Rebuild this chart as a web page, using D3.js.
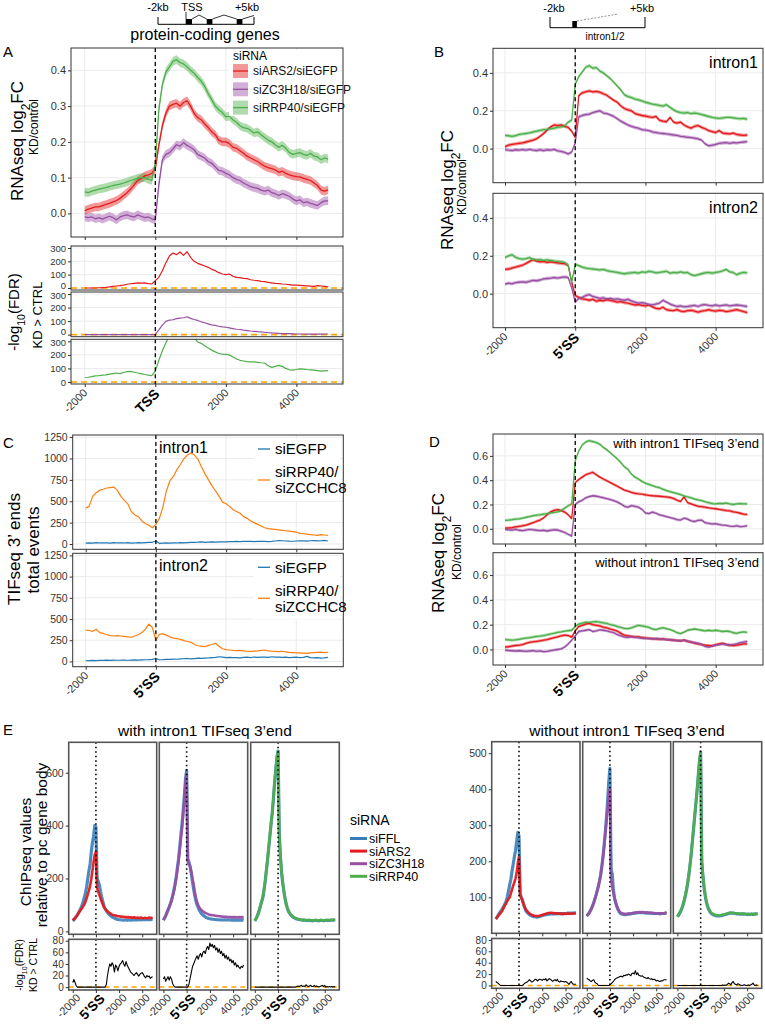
<!DOCTYPE html>
<html><head><meta charset="utf-8">
<script src="https://cdn.jsdelivr.net/npm/d3@7"></script>
<style>body{margin:0;background:#fff}svg{display:block}text{font-family:"Liberation Sans",Arial,Helvetica,sans-serif}</style>
</head><body><svg id="c" width="765" height="1026"></svg>
<script>
// ---------- bins ----------
const binStart = -2000, binStep = 100, nBins = 70;
const pos = d3.range(nBins).map(i => binStart + i * binStep);
const xTickVals = [-2000, 0, 2000, 4000];
const xTickTSS = ["-2000", "TSS", "2000", "4000"];
const xTickSS = ["-2000", "5\u2019SS", "2000", "4000"];
const seriesA = ["siARS2/siEGFP", "siZC3H18/siEGFP", "siRRP40/siEGFP"];
const seriesC = ["siEGFP", "siRRP40/", "siZCCHC8"];
const seriesE = ["siFFL", "siARS2", "siZC3H18", "siRRP40"];

// ---------- Panel A: RNAseq log2FC (protein-coding genes) ----------
const aRed = [0.008,0.012,0.015,0.018,0.018,0.022,0.025,0.028,0.032,0.036,
 0.042,0.050,0.058,0.068,0.080,0.092,0.098,0.105,0.108,0.112,
 0.125,0.190,0.245,0.280,0.300,0.305,0.308,0.300,0.310,0.315,
 0.300,0.280,0.268,0.262,0.250,0.240,0.228,0.220,0.205,0.200,
 0.200,0.195,0.185,0.182,0.175,0.168,0.160,0.155,0.150,0.145,
 0.138,0.132,0.128,0.125,0.122,0.115,0.118,0.112,0.108,0.105,
 0.103,0.102,0.098,0.095,0.092,0.085,0.078,0.065,0.062,0.066];
const aPurple = [-0.010,-0.012,-0.010,-0.015,-0.012,-0.016,-0.012,-0.008,-0.012,-0.018,
 -0.010,-0.006,-0.004,-0.008,-0.010,-0.004,-0.008,-0.012,-0.010,-0.015,
 -0.018,0.080,0.150,0.165,0.170,0.180,0.192,0.188,0.198,0.190,
 0.185,0.178,0.165,0.160,0.155,0.145,0.140,0.130,0.120,0.118,
 0.112,0.108,0.100,0.095,0.092,0.085,0.080,0.075,0.072,0.070,
 0.065,0.062,0.065,0.058,0.055,0.050,0.055,0.052,0.048,0.040,
 0.035,0.038,0.030,0.032,0.028,0.025,0.022,0.030,0.035,0.035];
const aGreen = [0.060,0.058,0.062,0.065,0.068,0.070,0.072,0.075,0.078,0.080,
 0.082,0.085,0.088,0.092,0.095,0.098,0.100,0.100,0.095,0.092,
 0.140,0.290,0.360,0.395,0.410,0.425,0.430,0.422,0.418,0.410,
 0.400,0.392,0.380,0.370,0.355,0.335,0.318,0.300,0.290,0.282,
 0.270,0.272,0.262,0.255,0.245,0.240,0.238,0.232,0.225,0.228,
 0.220,0.212,0.205,0.200,0.192,0.185,0.190,0.182,0.170,0.165,
 0.168,0.170,0.165,0.162,0.168,0.160,0.158,0.150,0.155,0.152];
const seA = 0.012;
const aFdrRed = [0,0,0,0,2,3,5,8,12,15,
 18,22,28,32,35,38,36,38,33,30,
 55,80,130,190,240,262,250,270,245,272,
 230,200,185,175,165,155,140,130,115,105,
 100,105,88,80,78,72,70,62,58,55,
 50,48,42,38,35,33,30,28,25,22,
 22,20,18,16,14,12,18,15,12,8];
const aFdrPurple = [0,0,0,0,0,0,0,0,0,0,
 0,0,0,0,0,0,0,0,0,0,
 2,35,70,98,108,110,118,122,125,132,
 120,112,105,95,88,80,72,68,62,58,
 55,50,45,40,38,33,30,27,25,22,
 20,18,15,13,12,10,8,8,7,6,
 5,5,5,4,4,4,5,4,5,5];
const aFdrGreen = [33,35,40,45,46,50,52,58,62,66,
 62,70,76,78,72,66,62,55,50,46,
 80,160,230,290,340,380,400,420,410,400,
 370,330,295,285,268,250,235,222,210,205,
 204,200,185,170,160,155,150,148,148,145,
 142,140,120,108,115,122,115,100,90,88,
 92,97,95,92,90,88,84,80,82,84];

// ---------- Panel B: intron1 / intron2 ----------
const bRed1 = [0.010,0.018,0.022,0.025,0.028,0.030,0.035,0.040,0.045,0.052,
 0.065,0.080,0.098,0.115,0.125,0.122,0.125,0.118,0.112,0.092,
 0.060,0.280,0.295,0.300,0.305,0.300,0.302,0.298,0.290,0.282,
 0.268,0.255,0.245,0.225,0.212,0.205,0.200,0.185,0.180,0.175,
 0.172,0.168,0.165,0.170,0.150,0.145,0.142,0.165,0.140,0.135,
 0.140,0.125,0.115,0.108,0.118,0.122,0.112,0.105,0.095,0.090,
 0.085,0.095,0.082,0.080,0.078,0.082,0.075,0.072,0.070,0.072];
const bPurple1 = [-0.005,-0.008,-0.010,-0.006,-0.008,-0.005,-0.008,-0.004,-0.008,-0.010,
 -0.006,-0.010,-0.006,-0.008,-0.004,-0.012,-0.015,-0.020,-0.028,-0.018,
 0.030,0.168,0.175,0.180,0.182,0.190,0.195,0.200,0.188,0.185,
 0.178,0.170,0.158,0.145,0.135,0.125,0.118,0.112,0.108,0.100,
 0.098,0.095,0.088,0.085,0.082,0.080,0.078,0.075,0.072,0.070,
 0.065,0.063,0.060,0.058,0.055,0.052,0.045,0.025,0.015,0.018,
 0.022,0.028,0.030,0.032,0.028,0.032,0.030,0.033,0.035,0.037];
const bGreen1 = [0.070,0.068,0.065,0.068,0.075,0.078,0.080,0.083,0.088,0.092,
 0.096,0.100,0.102,0.105,0.108,0.112,0.115,0.120,0.140,0.150,
 0.340,0.380,0.405,0.430,0.438,0.425,0.428,0.410,0.400,0.385,
 0.370,0.350,0.330,0.310,0.285,0.275,0.270,0.262,0.258,0.252,
 0.245,0.240,0.235,0.232,0.228,0.225,0.232,0.218,0.205,0.195,
 0.190,0.188,0.190,0.185,0.188,0.185,0.180,0.175,0.170,0.165,
 0.162,0.160,0.162,0.165,0.165,0.163,0.160,0.158,0.160,0.155];
const bRed2 = [0.128,0.130,0.135,0.140,0.145,0.150,0.160,0.170,0.180,0.172,
 0.168,0.170,0.165,0.168,0.165,0.162,0.160,0.158,0.150,0.060,
 -0.010,-0.020,-0.028,-0.030,-0.035,-0.030,-0.040,-0.035,-0.038,-0.032,
 -0.036,-0.040,-0.045,-0.042,-0.048,-0.050,-0.055,-0.060,-0.058,-0.062,
 -0.065,-0.060,-0.070,-0.078,-0.080,-0.072,-0.085,-0.088,-0.090,-0.085,
 -0.092,-0.095,-0.090,-0.088,-0.092,-0.098,-0.092,-0.090,-0.085,-0.090,
 -0.092,-0.088,-0.090,-0.095,-0.092,-0.088,-0.085,-0.090,-0.095,-0.100];
const bPurple2 = [0.050,0.055,0.052,0.058,0.060,0.062,0.060,0.065,0.070,0.068,
 0.072,0.078,0.080,0.082,0.085,0.082,0.086,0.088,0.085,0.030,
 -0.045,-0.025,-0.020,-0.010,-0.005,-0.015,-0.020,-0.025,-0.022,-0.028,
 -0.025,-0.030,-0.028,-0.032,-0.035,-0.030,-0.038,-0.045,-0.050,-0.048,
 -0.052,-0.058,-0.060,-0.055,-0.050,-0.035,-0.045,-0.055,-0.062,-0.068,
 -0.065,-0.070,-0.068,-0.065,-0.062,-0.068,-0.060,-0.058,-0.062,-0.065,
 -0.060,-0.065,-0.062,-0.060,-0.065,-0.062,-0.060,-0.062,-0.065,-0.068];
const bGreen2 = [0.190,0.200,0.205,0.192,0.185,0.182,0.185,0.190,0.180,0.178,
 0.180,0.175,0.178,0.175,0.172,0.170,0.168,0.165,0.150,0.060,
 0.155,0.148,0.140,0.135,0.132,0.130,0.128,0.125,0.128,0.122,
 0.118,0.115,0.112,0.108,0.105,0.108,0.110,0.112,0.108,0.115,
 0.112,0.118,0.115,0.110,0.112,0.115,0.118,0.108,0.112,0.110,
 0.115,0.110,0.112,0.100,0.095,0.100,0.105,0.110,0.112,0.108,
 0.112,0.115,0.120,0.128,0.115,0.112,0.100,0.108,0.112,0.110];
const seB = 0.009;

// ---------- Panel C: TIFseq 3' ends ----------
const cBlue1 = [10,12,10,15,12,14,12,10,15,12,
 14,12,15,10,12,15,14,16,18,20,
 35,8,10,12,10,14,12,15,14,16,
 18,20,22,25,20,22,24,22,25,24,
 26,28,27,30,28,30,32,30,28,30,
 32,30,28,30,35,40,38,35,33,32,
 35,38,36,34,38,40,36,38,42,35];
const cOrange1 = [420,440,560,600,630,640,655,660,665,630,
 560,510,470,380,340,320,270,240,220,190,
 230,300,430,620,740,790,870,930,1000,1040,
 1065,1040,990,900,820,750,680,620,560,490,
 470,440,400,380,360,320,300,270,250,230,
 210,190,180,175,170,165,160,155,150,145,
 140,125,120,115,110,105,100,110,105,100];
const cBlue2 = [8,10,12,10,14,12,15,13,16,14,
 15,17,14,16,18,16,18,20,22,25,
 35,20,22,25,24,28,26,30,32,35,
 30,34,38,36,40,42,45,48,55,50,
 45,48,44,46,42,48,50,46,52,48,
 50,52,48,55,50,52,48,50,46,48,
 50,46,48,60,45,42,44,40,42,48];
const cOrange2 = [370,365,355,380,340,330,315,305,300,305,
 300,295,290,285,300,315,340,380,440,400,
 250,320,325,310,290,275,270,260,245,235,
 225,200,185,180,175,190,200,215,180,150,
 140,135,130,128,130,125,120,118,122,125,
 130,135,125,120,118,115,120,112,108,105,
 102,100,98,95,100,105,108,110,105,108];

// ---------- Panel D: with / without intron1 TIFseq 3'end ----------
const dRed1 = [0.005,0.008,0.010,0.015,0.020,0.025,0.030,0.040,0.050,0.062,
 0.072,0.090,0.115,0.140,0.152,0.158,0.150,0.138,0.115,0.085,
 0.380,0.405,0.425,0.445,0.455,0.465,0.445,0.425,0.410,0.395,
 0.380,0.365,0.350,0.335,0.318,0.310,0.300,0.292,0.288,0.285,
 0.280,0.275,0.272,0.270,0.268,0.265,0.262,0.258,0.250,0.235,
 0.225,0.262,0.215,0.205,0.195,0.185,0.182,0.178,0.172,0.168,
 0.165,0.160,0.155,0.150,0.148,0.140,0.135,0.128,0.120,0.118];
const dPurple1 = [-0.005,-0.008,-0.010,-0.005,-0.012,-0.015,-0.010,-0.005,-0.008,-0.012,
 -0.015,-0.012,-0.018,-0.012,-0.008,-0.010,-0.020,-0.030,-0.045,-0.060,
 0.200,0.222,0.235,0.255,0.265,0.272,0.268,0.262,0.255,0.248,
 0.240,0.232,0.220,0.205,0.185,0.178,0.190,0.185,0.178,0.160,
 0.130,0.125,0.138,0.128,0.115,0.108,0.100,0.092,0.085,0.075,
 0.072,0.088,0.080,0.065,0.060,0.070,0.072,0.050,0.045,0.040,
 0.042,0.035,0.030,0.028,0.022,0.020,0.025,0.018,0.020,0.025];
const dGreen1 = [0.070,0.072,0.075,0.080,0.082,0.088,0.095,0.100,0.108,0.112,
 0.115,0.120,0.125,0.130,0.135,0.140,0.150,0.170,0.190,0.205,
 0.560,0.640,0.690,0.715,0.725,0.718,0.710,0.695,0.670,0.650,
 0.625,0.600,0.575,0.545,0.510,0.490,0.450,0.425,0.410,0.390,
 0.375,0.365,0.355,0.345,0.338,0.325,0.315,0.305,0.298,0.290,
 0.282,0.270,0.262,0.255,0.245,0.238,0.232,0.222,0.215,0.208,
 0.205,0.210,0.208,0.212,0.205,0.200,0.205,0.208,0.205,0.205];
const dRed2 = [0.020,0.022,0.028,0.032,0.035,0.040,0.050,0.058,0.062,0.065,
 0.070,0.075,0.080,0.088,0.095,0.102,0.110,0.115,0.112,0.100,
 0.150,0.185,0.195,0.205,0.210,0.200,0.195,0.190,0.180,0.175,
 0.165,0.158,0.148,0.130,0.115,0.110,0.105,0.100,0.102,0.095,
 0.092,0.090,0.088,0.085,0.082,0.085,0.080,0.078,0.075,0.072,
 0.070,0.075,0.065,0.060,0.052,0.045,0.040,0.035,0.032,0.030,
 0.038,0.045,0.050,0.040,0.035,0.032,0.035,0.040,0.045,0.045];
const dPurple2 = [-0.005,-0.008,-0.010,-0.012,-0.010,-0.012,-0.015,-0.012,-0.010,-0.015,
 -0.012,-0.018,-0.015,-0.010,-0.005,0.000,0.005,0.020,0.045,0.075,
 0.110,0.145,0.150,0.155,0.160,0.145,0.150,0.158,0.155,0.150,
 0.142,0.135,0.120,0.110,0.100,0.098,0.102,0.100,0.095,0.092,
 0.090,0.088,0.085,0.088,0.085,0.082,0.080,0.078,0.075,0.072,
 0.070,0.075,0.068,0.060,0.055,0.050,0.040,0.025,0.020,0.028,
 0.035,0.040,0.045,0.040,0.035,0.040,0.045,0.055,0.060,0.065];
const dGreen2 = [0.080,0.078,0.075,0.078,0.082,0.088,0.092,0.095,0.100,0.105,
 0.108,0.112,0.118,0.125,0.130,0.138,0.142,0.148,0.152,0.155,
 0.185,0.205,0.212,0.220,0.218,0.222,0.225,0.220,0.215,0.210,
 0.200,0.195,0.185,0.178,0.170,0.168,0.175,0.185,0.195,0.190,
 0.185,0.178,0.165,0.160,0.170,0.175,0.168,0.160,0.150,0.135,
 0.128,0.140,0.155,0.160,0.165,0.160,0.155,0.150,0.155,0.150,
 0.155,0.150,0.145,0.148,0.145,0.135,0.130,0.138,0.142,0.138];
const seD = 0.012;

// ---------- Panel E: ChIPseq, with intron1 TIFseq 3'end ----------
const eL1FFL = [40,44,50,56,62,70,78,88,98,112,
 128,146,168,200,230,255,300,335,360,400,
 395,200,190,175,150,128,112,95,85,78,
 72,66,62,58,55,52,50,48,46,45,
 44,44,43,43,42,43,43,42,43,43,
 42,43,44,43,43,44,43,44,44,43,
 44,45,44,44,45,44,45,44,45,45];
const eL1KD = [42,46,50,56,62,70,76,82,88,95,
 102,112,126,140,155,172,198,230,262,290,
 300,165,150,138,125,112,102,92,85,80,
 76,72,69,66,63,62,61,60,58,57,
 57,56,56,55,55,54,54,53,54,53,
 53,52,52,53,52,51,52,51,51,52,
 51,50,51,51,50,51,52,51,51,52];
const eL2FFL = [42,50,58,70,80,92,104,118,135,155,
 178,205,238,272,315,360,405,455,510,575,
 609,275,262,245,220,190,160,135,115,100,
 90,80,72,66,62,58,55,52,50,49,
 48,47,46,46,45,45,44,44,44,43,
 44,43,43,44,43,43,44,43,43,42,
 43,42,43,42,43,42,43,42,43,42];
const eL2KD = [44,52,60,72,82,92,104,116,132,150,
 172,200,232,265,305,350,390,440,495,560,
 595,262,255,245,225,200,178,150,128,110,
 99,90,84,80,76,73,70,68,66,64,
 63,62,61,61,60,59,58,58,57,57,
 56,56,55,55,55,54,54,54,54,53,
 54,53,54,53,53,54,53,54,53,54];
const eL3FFL = [40,47,56,68,82,98,114,130,158,192,
 232,272,318,362,408,448,502,562,612,658,
 682,375,282,222,182,150,123,102,86,75,
 68,62,57,54,51,49,47,46,45,44,
 43,42,43,42,41,42,41,42,41,41,
 40,41,42,41,40,41,41,42,41,40,
 41,42,41,42,41,42,43,42,43,43];
const eL3KD = [40,48,58,70,84,100,115,132,160,195,
 235,275,320,365,410,450,505,565,615,660,
 680,360,285,225,185,152,125,104,88,77,
 69,63,58,55,52,50,48,47,46,45,
 44,43,44,43,42,43,42,43,42,42,
 41,42,43,42,41,42,42,43,42,41,
 42,43,42,43,42,43,44,43,44,44];
const eLF1 = [8,13,8,2,0,0,0,0,0,0,
 0,0,0,0,0,0,0,0,0,0,
 0,0,0,0,0,0,0,0,0,5,
 20,32,40,36,42,38,26,38,35,28,
 36,40,42,46,40,36,44,38,34,30,
 26,24,22,20,23,25,22,19,22,24,
 25,22,18,16,20,18,19,15,17,18];
const eLF2 = [14,18,10,14,18,12,18,14,6,2,
 0,0,0,0,0,0,0,0,0,0,
 0,0,5,15,25,35,40,45,50,54,
 48,55,58,52,60,62,58,66,70,65,
 76,70,74,68,72,64,68,60,66,58,
 62,54,58,50,55,48,52,45,48,42,
 46,38,42,35,38,34,32,36,34,38];
const eLF3 = [0,0,0,0,0,0,0,0,0,0,
 0,0,0,0,0,0,0,0,0,0,
 0,0,0,0,0,0,0,0,0,0,
 0,0,0,0,0,0,1,2,1,2,
 3,1,2,1,4,2,1,2,3,1,
 1,3,1,2,1,0,1,2,3,1,
 3,0,1,0,1,0,1,0,1,0];

// ---------- Panel E: without intron1 TIFseq 3'end ----------
const eR1FFL = [40,44,50,55,60,64,70,76,82,90,
 102,118,135,150,172,192,212,230,255,280,
 270,110,100,92,80,70,62,58,55,52,
 50,48,47,46,46,45,45,46,47,48,
 49,50,51,52,52,53,53,54,54,54,
 54,54,55,54,55,55,54,55,54,55,
 55,55,56,55,56,55,56,56,57,57];
const eR1KD = [40,44,48,52,56,60,65,72,78,84,
 90,95,100,110,122,132,142,152,168,195,
 212,105,98,90,80,72,66,62,58,55,
 53,51,50,49,48,48,48,48,49,50,
 51,52,53,54,55,56,56,57,57,56,
 56,55,56,55,55,54,55,54,54,55,
 54,54,55,54,55,54,55,55,55,56];
const eR2FFL = [48,52,56,62,68,76,85,95,106,118,
 130,145,162,185,212,245,280,320,365,420,
 458,175,165,120,98,84,74,66,60,56,
 54,53,52,52,52,53,53,54,54,55,
 55,56,56,57,57,57,58,57,58,57,
 57,56,57,56,56,56,56,55,55,55,
 55,55,55,54,55,55,55,55,56,57];
const eR2KD = [48,52,56,62,68,76,85,95,106,118,
 130,145,162,185,210,240,275,310,345,385,
 400,150,130,112,98,86,76,68,62,58,
 56,55,54,54,53,54,54,55,55,56,
 56,57,57,58,58,58,59,58,59,58,
 58,57,58,57,57,56,57,56,56,56,
 55,56,55,55,56,55,56,55,57,58];
const eR3FFL = [46,50,56,62,70,80,92,106,122,142,
 165,192,222,258,292,328,362,398,438,478,
 502,198,158,126,103,86,74,66,60,56,
 53,51,50,49,48,48,48,49,49,50,
 51,52,53,54,55,56,56,56,56,55,
 55,54,54,54,53,53,54,53,53,53,
 52,53,52,53,53,52,53,53,54,54];
const eR3KD = [46,52,58,64,72,82,94,108,125,145,
 168,195,225,260,295,330,365,400,440,480,
 505,200,160,128,105,88,76,68,62,58,
 55,53,52,51,50,50,50,50,51,52,
 52,53,54,55,56,57,57,57,56,56,
 55,55,55,54,54,54,55,54,54,53,
 53,54,53,53,54,53,54,54,54,55];
const eRF1 = [7,5,4,2,0,0,0,0,0,0,
 0,0,0,0,0,0,0,0,0,0,
 0,0,0,0,2,4,5,6,8,10,
 8,6,7,9,11,10,8,10,11,10,
 9,11,10,12,8,10,12,11,9,7,
 9,10,8,11,7,6,8,7,7,6,
 7,6,4,2,5,7,3,2,2,2];
const eRF2 = [13,11,10,8,7,9,10,6,4,3,
 0,0,0,0,0,0,0,0,0,0,
 1,3,5,7,10,12,13,14,15,16,
 16,15,18,17,19,18,20,19,17,21,
 22,20,26,19,22,18,17,16,17,15,
 14,13,12,14,12,11,12,10,11,10,
 8,9,8,7,8,8,9,10,10,10];
const eRF3 = [0,0,0,0,0,0,0,0,0,0,
 0,0,0,0,0,0,0,0,0,0,
 0,0,0,0,0,0,0,0,0,0,
 0,0,0,0,0,0,0,0,0,1,
 0,1,0,2,4,3,1,5,7,3,
 2,1,3,2,1,0,0,1,1,0,
 0,1,0,1,2,4,1,0,1,0];

// ---------- drawing ----------
const colRed = "#E41A1C", colPurple = "#984EA3", colGreen = "#4DAF4A", colBlue = "#377EB8";
const colCBlue = "#1F77B4", colCOrange = "#FF7F0E", colThr = "#FFA500";
const svg = d3.select("#c");
let clipN = 0;

function makePanel(o) {
  const x = d3.scaleLinear().domain(o.xd).range([o.x0, o.x1]);
  const y = d3.scaleLinear().domain(o.yd).range([o.y1, o.y0]);
  const g = svg.append("g");
  g.append("rect").attr("x", o.x0).attr("y", o.y0).attr("width", o.x1 - o.x0).attr("height", o.y1 - o.y0).attr("fill", "#fff");
  if (o.grid) {
    const gg = g.append("g").attr("stroke", "#EBEBEB").attr("stroke-width", 1);
    xTickVals.forEach(v => gg.append("line").attr("x1", x(v)).attr("x2", x(v)).attr("y1", o.y0).attr("y2", o.y1));
    o.yticks.forEach(v => gg.append("line").attr("y1", y(v)).attr("y2", y(v)).attr("x1", o.x0).attr("x2", o.x1));
  }
  const id = "clp" + (clipN++);
  svg.append("clipPath").attr("id", id).append("rect").attr("x", o.x0).attr("y", o.y0).attr("width", o.x1 - o.x0).attr("height", o.y1 - o.y0);
  const plot = g.append("g").attr("clip-path", `url(#${id})`);
  const top = g.append("g");
  top.append("rect").attr("x", o.x0).attr("y", o.y0).attr("width", o.x1 - o.x0).attr("height", o.y1 - o.y0)
    .attr("fill", "none").attr("stroke", o.borderCol || "#333").attr("stroke-width", o.borderW || 1);
  if (o.yLabels !== false) {
    const shift = o.yShift || {};
    const ax = d3.axisLeft(y).tickValues(o.yticks).tickSize(3).tickPadding(2).tickFormat(o.yfmt || (d => d));
    top.append("g").attr("transform", `translate(${o.x0},0)`).call(ax).call(s => {
      s.select(".domain").remove();
      s.selectAll("line").attr("stroke", "#333");
      s.selectAll("text").attr("fill", "#333").style("font-size", (o.yfs || 11) + "px").style("font-family", '"Liberation Sans",Arial,sans-serif')
        .attr("transform", d => `translate(0,${shift[d] || 0})`);
    });
  }
  if (o.xMarks) {
    const ax = d3.axisBottom(x).tickValues(xTickVals).tickSize(3).tickFormat("");
    top.append("g").attr("transform", `translate(0,${o.y1})`).call(ax).call(s => {
      s.select(".domain").remove(); s.selectAll("line").attr("stroke", "#333");
    });
  }
  return { x, y, g, plot, top, o };
}
function drawLine(p, vals, col, w, op) {
  p.plot.append("path").datum(vals)
    .attr("d", d3.line().x((d, i) => p.x(pos[i])).y(d => p.y(d)))
    .attr("fill", "none").attr("stroke", col).attr("stroke-width", w || 1.3)
    .attr("stroke-linejoin", "round").attr("stroke-opacity", op == null ? 1 : op);
}
function drawRibbon(p, vals, se, col) {
  p.plot.append("path").datum(vals)
    .attr("d", d3.area().x((d, i) => p.x(pos[i])).y0(d => p.y(d - se)).y1(d => p.y(d + se)))
    .attr("fill", col).attr("fill-opacity", 0.45);
}
function vline(p, v, dash, w) {
  p.plot.append("line").attr("x1", p.x(v)).attr("x2", p.x(v)).attr("y1", p.o.y0).attr("y2", p.o.y1)
    .attr("stroke", "#000").attr("stroke-width", w || 1.2).attr("stroke-dasharray", dash);
}
function hline(p, v, col, dash, w) {
  p.plot.append("line").attr("y1", p.y(v)).attr("y2", p.y(v)).attr("x1", p.o.x0).attr("x2", p.o.x1)
    .attr("stroke", col).attr("stroke-width", w || 1.5).attr("stroke-dasharray", dash);
}
function xRot(p, labels, fsN, fsB, dx, dy) {
  xTickVals.forEach((v, i) => {
    const bold = v === 0;
    p.top.append("text")
      .attr("transform", `translate(${p.x(v) + dx},${p.o.y1 + dy}) rotate(-45)`)
      .attr("text-anchor", "end").attr("dy", "0.7em")
      .style("font-size", (bold ? fsB : fsN) + "px").style("font-weight", bold ? "bold" : "normal")
      .attr("fill", bold ? "#000" : "#333").text(labels[i]);
  });
}
function txt(x, y, s, fs, opts) {
  opts = opts || {};
  const t = svg.append("text").attr("x", x).attr("y", y).style("font-size", fs + "px")
    .attr("text-anchor", opts.anchor || "start").attr("fill", opts.fill || "#000");
  if (opts.weight) t.style("font-weight", opts.weight);
  t.text(s);
  return t;
}
function vtxt(cx, cy, parts, fs) {
  const t = svg.append("text").attr("transform", `translate(${cx},${cy}) rotate(-90)`)
    .attr("text-anchor", "middle").attr("dy", "0.35em").style("font-size", fs + "px").attr("fill", "#000");
  parts.forEach(pt => {
    const s = t.append("tspan").text(pt[0]);
    if (pt[1] === "sub") s.attr("baseline-shift", "sub").style("font-size", (fs * 0.7) + "px");
  });
  return t;
}
const f1 = d3.format(".1f");

// ===== Panel A =====
txt(3, 57, "A", 15);
const pA = makePanel({ x0: 71, x1: 343, y0: 48, y1: 237, xd: [-2390, 5321], yd: [-0.066, 0.4625], yticks: [0, 0.1, 0.2, 0.3, 0.4], yfmt: f1, grid: true, xMarks: true });
[[aRed, colRed], [aPurple, colPurple], [aGreen, colGreen]].forEach(([v, c]) => drawRibbon(pA, v, seA, c));
[[aRed, colRed], [aPurple, colPurple], [aGreen, colGreen]].forEach(([v, c]) => drawLine(pA, v, c, 1.3));
vline(pA, 0, "4,3", 1.3);
// legend A
pA.top.append("rect").attr("x", 229).attr("y", 50).attr("width", 112).attr("height", 66).attr("fill", "#fff");
pA.top.append("text").attr("x", 233).attr("y", 60).style("font-size", "12px").text("siRNA");
[colRed, colPurple, colGreen].forEach((c, i) => {
  const yy = 71 + i * 18.3;
  pA.top.append("rect").attr("x", 233).attr("y", yy - 7).attr("width", 15).attr("height", 14).attr("fill", c).attr("fill-opacity", 0.45);
  pA.top.append("line").attr("x1", 233).attr("x2", 248).attr("y1", yy).attr("y2", yy).attr("stroke", c).attr("stroke-width", 1.3);
  pA.top.append("text").attr("x", 253).attr("y", yy).attr("dy", "0.35em").style("font-size", "12px").attr("fill", "#111").text(seriesA[i]);
});
const fdrBoxesA = [[246, 290], [292, 336.7], [339.3, 384]];
const fdrA = [[aFdrRed, colRed], [aFdrPurple, colPurple], [aFdrGreen, colGreen]];
let pAlast;
fdrBoxesA.forEach((b, i) => {
  const p = makePanel({ x0: 71, x1: 343, y0: b[0], y1: b[1], xd: [-2390, 5321], yd: [-15, 315], yticks: [0, 100, 200, 300], grid: true, xMarks: i === 2, yfs: 9.5,
    yShift: { 0: i < 2 ? -3 : 0, 300: i > 0 ? 1.5 : 0 } });
  hline(p, 0, colThr, "6,4", 1.6);
  drawLine(p, fdrA[i][0], fdrA[i][1], 1.2);
  vline(p, 0, "4,3", 1.3);
  pAlast = p;
});
xRot(pAlast, xTickTSS, 11, 14, -2, 4);
vtxt(17, 141, [["RNAseq log"], ["2", "sub"], ["FC"]], 17);
vtxt(34, 127, [["KD/control"]], 12);
vtxt(14, 312, [["-log"], ["10", "sub"], ["(FDR)"]], 15);
vtxt(37, 315, [["KD > CTRL"]], 13);

// schematic A
const sch = svg.append("g").attr("stroke", "#000").attr("fill", "none").attr("stroke-width", 1);
sch.append("path").attr("d", "M158,17V24.3H254V17");
sch.append("path").attr("d", "M186,12V19 M192,19L199,15L206.7,19 M212.4,19L224,15L236.7,19 M242.4,19L254,15.5").attr("stroke-width", 0.8);
[[185.7, 6.3], [206.7, 5.7], [236.7, 5.7]].forEach(r => svg.append("rect").attr("x", r[0]).attr("y", 19).attr("width", r[1]).attr("height", 5.3).attr("fill", "#000"));
txt(158, 11, "-2kb", 11, { anchor: "middle" });
txt(192, 11, "TSS", 11, { anchor: "middle" });
txt(247, 11, "+5kb", 11, { anchor: "middle" });
txt(205, 40, "protein-coding genes", 16, { anchor: "middle" });

// ===== Panel B =====
txt(434, 57, "B", 15);
const schB = svg.append("g").attr("stroke", "#000").attr("fill", "none").attr("stroke-width", 1);
schB.append("path").attr("d", "M550,17V27.7H645V17");
svg.append("rect").attr("x", 572.3).attr("y", 21).attr("width", 4.6).attr("height", 6.7).attr("fill", "#000");
svg.append("line").attr("x1", 577).attr("y1", 21).attr("x2", 617).attr("y2", 14.3).attr("stroke", "#666").attr("stroke-width", 0.7).attr("stroke-dasharray", "2,1.5");
txt(554, 12, "-2kb", 11, { anchor: "middle" });
txt(642, 12, "+5kb", 11, { anchor: "middle" });
txt(605, 40, "intron1/2", 10, { anchor: "middle" });
const bData = [[bRed1, bPurple1, bGreen1], [bRed2, bPurple2, bGreen2]];
const bBoxes = [[48.3, 182.7], [193.3, 327.7]];
let pBlast;
bBoxes.forEach((b, i) => {
  const p = makePanel({ x0: 493, x1: 763, y0: b[0], y1: b[1], xd: [-2342, 5348], yd: [-0.18, 0.53], yticks: [0, 0.2, 0.4], yfmt: f1, grid: true, xMarks: true });
  const cols = [colRed, colPurple, colGreen];
  bData[i].forEach((v, j) => drawRibbon(p, v, seB, cols[j]));
  bData[i].forEach((v, j) => drawLine(p, v, cols[j], 1.3));
  vline(p, 0, "4,3", 1.3);
  p.top.append("text").attr("x", 758).attr("y", b[0] + 20).attr("text-anchor", "end").style("font-size", "16px").text(i === 0 ? "intron1" : "intron2");
  pBlast = p;
});
xRot(pBlast, xTickSS, 11, 14, -2, 4);
vtxt(447, 190, [["RNAseq log"], ["2", "sub"], ["FC"]], 17);
vtxt(462, 187, [["KD/control"]], 12);

// ===== Panel C =====
txt(3, 448, "C", 15);
const cData = [[cBlue1, cOrange1], [cBlue2, cOrange2]];
const cBoxes = [[435, 549.3], [553.3, 666.7]];
let pClast;
cBoxes.forEach((b, i) => {
  const p = makePanel({ x0: 72.7, x1: 343.3, y0: b[0], y1: b[1], xd: [-2370, 5340], yd: [-62, 1275], yticks: [0, 250, 500, 750, 1000, 1250], grid: true, xMarks: true, yfs: 10.5 });
  drawLine(p, cData[i][0], colCBlue, 1.2);
  drawLine(p, cData[i][1], colCOrange, 1.2);
  vline(p, 0, "4,3", 1.3);
  p.top.append("text").attr("x", 159).attr("y", b[0] + 18).style("font-size", "16px").text(i === 0 ? "intron1" : "intron2");
  const ly = b[0] + 14;
  p.top.append("rect").attr("x", 254).attr("y", ly - 10).attr("width", 86).attr("height", 62).attr("fill", "#fff");
  p.top.append("line").attr("x1", 258).attr("x2", 270).attr("y1", ly).attr("y2", ly).attr("stroke", colCBlue).attr("stroke-width", 1.3);
  p.top.append("text").attr("x", 275).attr("y", ly).attr("dy", "0.35em").style("font-size", "15px").text(seriesC[0]);
  p.top.append("line").attr("x1", 258).attr("x2", 270).attr("y1", ly + 31).attr("y2", ly + 31).attr("stroke", colCOrange).attr("stroke-width", 1.3);
  p.top.append("text").attr("x", 275).attr("y", ly + 23).attr("dy", "0.35em").style("font-size", "15px").text(seriesC[1]);
  p.top.append("text").attr("x", 275).attr("y", ly + 39).attr("dy", "0.35em").style("font-size", "15px").text(seriesC[2]);
  pClast = p;
});
xRot(pClast, xTickSS, 11, 14, -2, 4);
vtxt(14, 549, [["TIFseq 3\u2019 ends"]], 17);
vtxt(33, 550, [["total events"]], 17);

// ===== Panel D =====
txt(429, 447, "D", 15);
const dData = [[dRed1, dPurple1, dGreen1], [dRed2, dPurple2, dGreen2]];
const dBoxes = [[434, 544], [552.7, 665]];
const dLabels = ["with intron1 TIFseq 3\u2019end", "without intron1 TIFseq 3\u2019end"];
let pDlast;
dBoxes.forEach((b, i) => {
  const p = makePanel({ x0: 493, x1: 763, y0: b[0], y1: b[1], xd: [-2342, 5348], yd: [-0.125, 0.78], yticks: [0, 0.2, 0.4, 0.6], yfmt: f1, grid: true, xMarks: true });
  const cols = [colRed, colPurple, colGreen];
  dData[i].forEach((v, j) => drawRibbon(p, v, seD, cols[j]));
  dData[i].forEach((v, j) => drawLine(p, v, cols[j], 1.3));
  vline(p, 0, "4,3", 1.3);
  p.top.append("text").attr("x", 759).attr("y", b[0] + 14).attr("text-anchor", "end").style("font-size", "13px").text(dLabels[i]);
  pDlast = p;
});
xRot(pDlast, xTickSS, 11, 14, -2, 4);
vtxt(438, 553, [["RNAseq log"], ["2", "sub"], ["FC"]], 17);
vtxt(457, 552, [["KD/control"]], 12);

// ===== Panel E =====
txt(3, 735, "E", 15);
txt(205, 736, "with intron1 TIFseq 3\u2019end", 15.5, { anchor: "middle" });
txt(627, 736, "without intron1 TIFseq 3\u2019end", 15.5, { anchor: "middle" });
const eCols = [colRed, colPurple, colGreen];
function eBlock(facets, main, fdr, mainData, fdrData, mainDom, mainTicks) {
  facets.forEach((fx, i) => {
    const pm = makePanel({ x0: fx[0], x1: fx[1], y0: main[0], y1: main[1], xd: [-2350, 5250], yd: mainDom, yticks: mainTicks, grid: false, xMarks: true, yLabels: i === 0, borderCol: "#555", borderW: 1.6, yfs: 10.5 });
    drawLine(pm, mainData[i][0], colBlue, 3.2, 0.9);
    drawLine(pm, mainData[i][1], eCols[i], 2.6, 0.95);
    vline(pm, 0, "1.5,3", 1.6);
    const pf = makePanel({ x0: fx[0], x1: fx[1], y0: fdr[0], y1: fdr[1], xd: [-2350, 5250], yd: [-5, 82.5], yticks: [0, 20, 40, 60, 80], grid: false, xMarks: true, yLabels: i === 0, borderCol: "#555", borderW: 1.6, yfs: 10 });
    hline(pf, 0, colThr, "5,4", 1.5);
    drawLine(pf, fdrData[i], "#000", 1.1);
    vline(pf, 0, "1.5,3", 1.6);
    xRot(pf, xTickSS, 11, 13.5, 3, 3);
  });
}
eBlock([[68.7, 156.7], [159.3, 247.7], [250.7, 339.3]], [742.3, 934.3], [939.3, 990],
  [[eL1FFL, eL1KD], [eL2FFL, eL2KD], [eL3FFL, eL3KD]], [eLF1, eLF2, eLF3], [-11, 715], [0, 200, 400, 600]);
eBlock([[491.7, 580], [582.7, 670.7], [673.3, 761.7]], [741.7, 933.3], [938.5, 988.3],
  [[eR1FFL, eR1KD], [eR2FFL, eR2KD], [eR3FFL, eR3KD]], [eRF1, eRF2, eRF3], [0, 532], [100, 200, 300, 400, 500]);
vtxt(26, 852, [["ChIPseq values"]], 15.5);
vtxt(42, 845, [["relative to pc gene body"]], 15.5);
vtxt(19, 965, [["-log"], ["10", "sub"], ["(FDR)"]], 10);
vtxt(33, 965, [["KD > CTRL"]], 10.5);
// legend E
txt(350, 825, "siRNA", 14);
[colBlue, colRed, colPurple, colGreen].forEach((c, i) => {
  const yy = 838.5 + i * 12.6;
  svg.append("line").attr("x1", 350).attr("x2", 367).attr("y1", yy).attr("y2", yy).attr("stroke", c).attr("stroke-width", 3);
  svg.append("text").attr("x", 369).attr("y", yy).attr("dy", "0.36em").style("font-size", "12.5px").text(seriesE[i]);
});
</script></body></html>
